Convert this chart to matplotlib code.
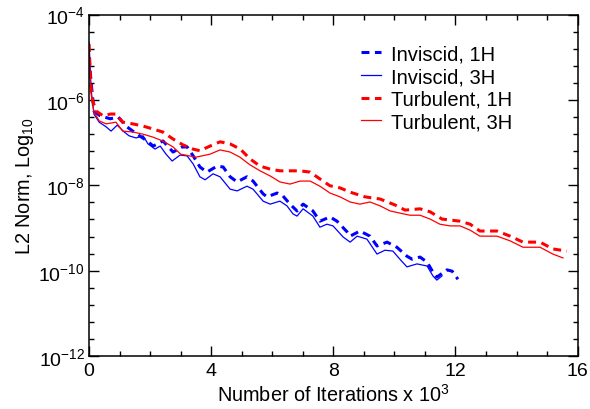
import matplotlib
matplotlib.use("Agg")
import matplotlib.pyplot as plt
from matplotlib.ticker import MultipleLocator, FuncFormatter

plt.rcParams['font.family'] = ['Liberation Sans', 'DejaVu Sans']
plt.rcParams['mathtext.fontset'] = 'custom'
plt.rcParams['mathtext.rm'] = 'Liberation Sans'
plt.rcParams['mathtext.default'] = 'regular'

# Iterations (x 10^3) and log10 of L2 norm
inv1_x = [0, 0.07, 0.16, 0.36, 0.69, 0.95, 1.24, 1.57, 1.90, 2.10, 2.42, 2.75, 3.05, 3.21, 3.41,
          3.63, 3.86, 4.19, 4.39, 4.62, 4.85, 5.17, 5.37, 5.70, 5.83, 6.16, 6.35, 6.58, 6.81, 7.01,
          7.33, 7.56, 7.89, 8.12, 8.45, 8.55, 8.87, 9.20, 9.43, 9.76, 10.08, 10.41, 10.58, 10.84,
          11.07, 11.26, 11.39, 11.72, 11.89, 12.08]
inv1_y = [-5.00, -5.62, -6.26, -6.37, -6.44, -6.40, -6.63, -6.80, -6.96, -7.08, -6.96, -7.22, -7.10,
          -7.10, -7.31, -7.57, -7.69, -7.55, -7.57, -7.80, -7.92, -7.80, -7.90, -8.20, -8.27, -8.18,
          -8.25, -8.44, -8.60, -8.44, -8.60, -8.84, -8.74, -8.84, -9.09, -9.19, -9.07, -9.19, -9.42,
          -9.33, -9.45, -9.66, -9.73, -9.68, -9.80, -10.03, -10.15, -9.98, -10.01, -10.20]

inv3_x = [0, 0.07, 0.16, 0.33, 0.56, 0.72, 0.92, 1.15, 1.31, 1.54, 1.77, 1.93, 2.16, 2.33, 2.52,
          2.72, 2.98, 3.21, 3.41, 3.63, 3.80, 4.06, 4.29, 4.62, 4.85, 5.17, 5.37, 5.70, 5.93, 6.25,
          6.48, 6.68, 6.81, 7.01, 7.33, 7.56, 7.79, 7.99, 8.32, 8.55, 8.78, 9.10, 9.43, 9.69, 9.95,
          10.18, 10.41, 10.74, 11.07, 11.26, 11.39, 11.56]
inv3_y = [-4.65, -5.79, -6.33, -6.52, -6.63, -6.73, -6.59, -6.75, -6.84, -6.89, -6.84, -7.03, -7.15,
          -7.08, -7.27, -7.43, -7.29, -7.31, -7.50, -7.80, -7.87, -7.73, -7.80, -8.09, -8.13, -8.02,
          -8.09, -8.37, -8.44, -8.37, -8.48, -8.67, -8.72, -8.55, -8.72, -8.98, -8.91, -8.95, -9.21,
          -9.33, -9.19, -9.26, -9.61, -9.52, -9.54, -9.73, -9.91, -9.84, -9.89, -10.12, -10.22, -10.12]

turb1_x = [0, 0.05, 0.12, 0.23, 0.46, 0.70, 0.88, 1.10, 1.43, 1.76, 2.09, 2.41, 2.74, 3.07, 3.40,
           3.63, 3.96, 4.29, 4.62, 4.95, 5.27, 5.60, 5.93, 6.25, 6.58, 6.91, 7.24, 7.56, 7.89, 8.22,
           8.55, 9.04, 9.53, 10.02, 10.35, 10.84, 11.17, 11.56, 12.15, 12.48, 12.80, 13.36, 13.79,
           14.21, 14.77, 15.19, 15.65]
turb1_y = [-4.69, -5.62, -6.02, -6.26, -6.37, -6.33, -6.33, -6.52, -6.56, -6.61, -6.68, -6.75, -6.91,
           -7.05, -7.15, -7.19, -7.08, -6.98, -7.03, -7.15, -7.38, -7.55, -7.62, -7.66, -7.66, -7.66,
           -7.69, -7.85, -8.01, -8.06, -8.16, -8.27, -8.32, -8.46, -8.58, -8.55, -8.62, -8.79, -8.84,
           -8.91, -9.07, -9.07, -9.19, -9.33, -9.33, -9.49, -9.54]

turb3_x = [0, 0.05, 0.16, 0.33, 0.56, 0.88, 1.10, 1.43, 1.76, 2.09, 2.41, 2.75, 3.00, 3.50, 3.96,
           4.29, 4.62, 4.94, 5.27, 5.60, 5.93, 6.25, 6.58, 6.91, 7.24, 7.56, 7.89, 8.22, 8.55, 8.87,
           9.20, 9.53, 9.86, 10.18, 10.51, 10.84, 11.17, 11.49, 11.82, 12.15, 12.48, 12.80, 13.36,
           13.79, 14.21, 14.77, 15.19, 15.52]
turb3_y = [-4.80, -5.79, -6.28, -6.49, -6.56, -6.52, -6.73, -6.75, -6.80, -6.87, -6.96, -7.10, -7.27,
           -7.34, -7.27, -7.17, -7.22, -7.34, -7.52, -7.66, -7.78, -7.92, -7.97, -7.90, -7.90, -8.02,
           -8.18, -8.27, -8.39, -8.44, -8.39, -8.48, -8.60, -8.65, -8.70, -8.70, -8.79, -8.91, -8.95,
           -8.95, -9.05, -9.19, -9.19, -9.30, -9.45, -9.45, -9.61, -9.70]

labels = ['Inviscid, 1H', 'Inviscid, 3H', 'Turbulent, 1H', 'Turbulent, 3H']
x_ticks = [0, 4, 8, 12, 16]
y_ticks = [-12, -10, -8, -6, -4]

fig = plt.figure(figsize=(5.9, 4.1), dpi=100)
ax = fig.add_axes([0.151, 0.129, 0.828, 0.833])

dash = (2.6, 1.8)
ax.plot(inv1_x, inv1_y, color='#0000ff', lw=2.2, dashes=dash, label=labels[0])
ax.plot(inv3_x, inv3_y, color='#0000ff', lw=0.9, label=labels[1])
ax.plot(turb1_x, turb1_y, color='#ff0000', lw=2.2, dashes=dash, label=labels[2])
ax.plot(turb3_x, turb3_y, color='#ff0000', lw=0.9, label=labels[3])

ax.set_xlim(0, 16)
ax.set_ylim(-12, -4)
ax.set_xticks(x_ticks)
ax.set_yticks(y_ticks)
ax.xaxis.set_minor_locator(MultipleLocator(1))
ax.yaxis.set_minor_locator(MultipleLocator(0.4))
ax.yaxis.set_major_formatter(FuncFormatter(lambda v, p: '10$^{%d}$' % round(v)))
ax.xaxis.set_major_formatter(FuncFormatter(lambda v, p: '%d' % round(v)))

ax.tick_params(which='both', direction='in', top=True, right=True, labelsize=14, width=1.0)
ax.tick_params(which='major', length=7)
ax.tick_params(which='minor', length=3.6)
ax.tick_params(axis='x', pad=4)
ax.tick_params(axis='y', pad=3)
for s in ax.spines.values():
    s.set_linewidth(1.1)

ax.set_xlabel('Number of Iterations x 10$^{3}$', fontsize=14.3, labelpad=3)
ax.set_ylabel('L2 Norm, Log$_{10}$', fontsize=14.3, labelpad=2)

leg = ax.legend(loc='upper left', bbox_to_anchor=(0.54, 0.936), frameon=False, fontsize=14.5,
                handlelength=1.0, handletextpad=0.5, labelspacing=0.18, borderaxespad=0)

fig.savefig('out.png', dpi=100)
